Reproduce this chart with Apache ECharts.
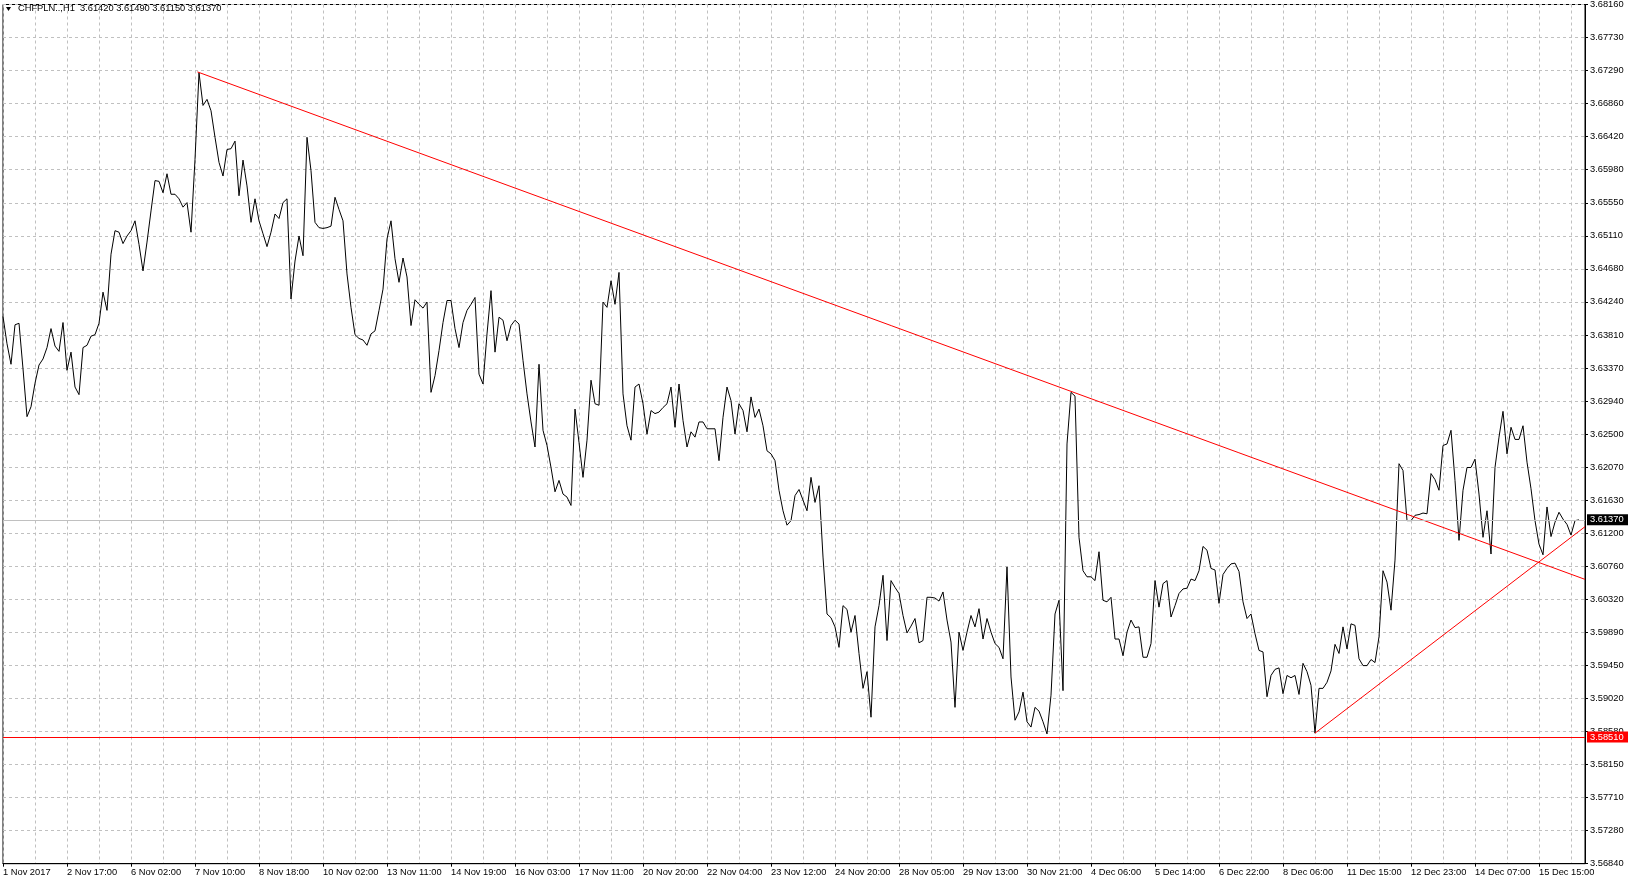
<!DOCTYPE html>
<html><head><meta charset="utf-8">
<script src="https://cdn.jsdelivr.net/npm/echarts@6/dist/echarts.min.js"></script>
<style>html,body{margin:0;padding:0;background:#fff}#c{width:1628px;height:886px}</style>
</head><body><div id="c"></div>
<script>
// Hourly closes, one reading every 2 bars
const closes = [
3.6405,3.6369,3.6342,3.6394,3.6396,3.6336,3.6273,3.6286,3.6317,3.6341,
3.6349,3.6364,3.6389,3.6366,3.6359,3.6397,3.6334,3.6358,3.6312,3.6302,
3.6364,3.6367,3.6379,3.6381,3.6396,3.6437,3.6413,3.6487,3.6518,3.6516,
3.6501,3.6511,3.6518,3.6531,3.6500,3.6465,3.6503,3.6544,3.6584,3.6583,
3.6568,3.6593,3.6566,3.6566,3.6560,3.6549,3.6555,3.6516,3.6612,3.6726,
3.6683,3.6691,3.6676,3.6641,3.6608,3.6590,3.6625,3.6626,3.6636,3.6564,
3.6611,3.6577,3.6529,3.6560,3.6531,3.6514,3.6497,3.6516,3.6540,3.6534,
3.6555,3.6560,3.6428,3.6478,3.6511,3.6485,3.6641,3.6597,3.6529,3.6522,
3.6521,3.6522,3.6524,3.6562,3.6546,3.6531,3.6461,3.6417,3.6381,3.6376,
3.6374,3.6367,3.6382,3.6386,3.6413,3.6441,3.6507,3.6531,3.6481,3.6450,
3.6482,3.6457,3.6393,3.6427,3.6421,3.6416,3.6424,3.6305,3.6327,3.6360,
3.6397,3.6426,3.6426,3.6389,3.6364,3.6397,3.6413,3.6421,3.6430,3.6329,
3.6316,3.6382,3.6439,3.6358,3.6404,3.6400,3.6373,3.6393,3.6400,3.6395,
3.6347,3.6303,3.6266,3.6233,3.6342,3.6255,3.6235,3.6206,3.6174,3.6189,
3.6171,3.6167,3.6156,3.6283,3.6239,3.6193,3.6242,3.6321,3.6290,3.6288,
3.6424,3.6417,3.6452,3.6421,3.6463,3.6303,3.6261,3.6242,3.6312,3.6316,
3.6290,3.6250,3.6281,3.6277,3.6279,3.6285,3.6290,3.6312,3.6259,3.6316,
3.6268,3.6233,3.6253,3.6246,3.6266,3.6266,3.6257,3.6257,3.6257,3.6215,
3.6272,3.6312,3.6294,3.6250,3.6290,3.6281,3.6253,3.6299,3.6272,3.6283,
3.6261,3.6228,3.6224,3.6215,3.6176,3.6149,3.6130,3.6136,3.6169,3.6177,
3.6163,3.6149,3.6193,3.6160,3.6182,3.6088,3.6013,3.6008,3.5996,3.5969,
3.6024,3.6019,3.5989,3.6011,3.5961,3.5915,3.5937,3.5877,3.5996,3.6024,
3.6064,3.5978,3.6057,3.6048,3.6040,3.6011,3.5988,3.5997,3.6007,3.5975,
3.5978,3.6035,3.6035,3.6034,3.6030,3.6042,3.6005,3.5976,3.5890,3.5989,
3.5965,3.5989,3.6011,3.5996,3.6020,3.5980,3.6007,3.5989,3.5974,3.5969,
3.5954,3.6075,3.5930,3.5873,3.5884,3.5910,3.5871,3.5864,3.5890,3.5885,
3.5871,3.5855,3.5906,3.6013,3.6031,3.5912,3.6237,3.6305,3.6300,3.6114,
3.6070,3.6062,3.6062,3.6057,3.6095,3.6031,3.6029,3.6035,3.5980,3.5980,
3.5958,3.5989,3.6005,3.5995,3.5996,3.5956,3.5956,3.5974,3.6057,3.6022,
3.6053,3.6057,3.6009,3.6024,3.6040,3.6046,3.6047,3.6059,3.6057,3.6070,
3.6102,3.6097,3.6073,3.6071,3.6027,3.6065,3.6073,3.6079,3.6080,3.6069,
3.6029,3.6007,3.6013,3.5987,3.5965,3.5963,3.5904,3.5932,3.5940,3.5942,
3.5908,3.5932,3.5929,3.5932,3.5907,3.5948,3.5937,3.5919,3.5856,3.5915,
3.5915,3.5923,3.5938,3.5973,3.5961,3.5996,3.5967,3.6000,3.5998,3.5954,
3.5945,3.5945,3.5953,3.5949,3.5983,3.6070,3.6055,3.6018,3.6084,3.6211,
3.6202,3.6136,3.6136,3.6143,3.6144,3.6146,3.6145,3.6198,3.6190,3.6176,
3.6235,3.6237,3.6255,3.6189,3.6110,3.6176,3.6206,3.6206,3.6217,3.6171,
3.6114,3.6149,3.6092,3.6206,3.6246,3.6280,3.6224,3.6259,3.6243,3.6243,
3.6261,3.6213,3.6178,3.6136,3.6105,3.6091,3.6154,3.6115,3.6134,3.6147,
3.6138,3.6131,3.6117,3.6136,3.6137
];
const xLabels = ["1 Nov 2017","2 Nov 17:00","6 Nov 02:00","7 Nov 10:00","8 Nov 18:00","10 Nov 02:00",
"13 Nov 11:00","14 Nov 19:00","16 Nov 03:00","17 Nov 11:00","20 Nov 20:00","22 Nov 04:00",
"23 Nov 12:00","24 Nov 20:00","28 Nov 05:00","29 Nov 13:00","30 Nov 21:00","4 Dec 06:00",
"5 Dec 14:00","6 Dec 22:00","8 Dec 06:00","11 Dec 15:00","12 Dec 23:00","14 Dec 07:00","15 Dec 15:00"];
const yLabels = ["3.68160","3.67730","3.67290","3.66860","3.66420","3.65980","3.65550","3.65110",
"3.64680","3.64240","3.63810","3.63370","3.62940","3.62500","3.62070","3.61630","3.61200","3.60760",
"3.60320","3.59890","3.59450","3.59020","3.58580","3.58150","3.57710","3.57280","3.56840"];
const headerText = "CHFPLN..,H1  3.61420 3.61490 3.61150 3.61370";
const supportLevel = 3.58510;
const bidPrice = 3.61370;
const trendDown = [[97.2, 3.67272], [791, 3.60586]];
const trendUp = [[656, 3.5856], [791, 3.6128]];

const barsPerPoint = 2, totalBars = 791, barsPerLabel = 32, barsPerGrid = 16;
const yMin = 3.5684, yTop = 3.6816, ySteps = 26;
const yStep = (yTop - yMin) / ySteps;
const yMax = yMin + yStep * ySteps;
const FONT = "'Liberation Sans', Arial, 'DejaVu Sans', sans-serif";
const FS = 9.3;
const gridGray = '#c0c0c0';

const chart = echarts.init(document.getElementById('c'), null, {renderer: 'canvas'});
chart.setOption({
  animation: false,
  backgroundColor: '#fff',
  textStyle: {fontFamily: FONT},
  title: {text: headerText, left: 18, top: 4, padding: 0,
    textStyle: {fontSize: FS, fontWeight: 'normal', color: '#000', fontFamily: FONT}},
  graphic: [{type: 'polygon', shape: {points: [[6, 7], [11, 7], [8.5, 11]]}, style: {fill: '#000'}}],
  grid: {left: 3, right: 43, top: 3.6, bottom: 22.3, show: true, borderColor: '#000', borderWidth: 1},
  xAxis: [{
    type: 'value', position: 'bottom', min: 0, max: totalBars, interval: barsPerLabel,
    axisLine: {show: true, onZero: false, lineStyle: {color: '#000', width: 1}},
    axisTick: {show: true, length: 3, lineStyle: {color: '#000'}},
    axisLabel: {show: true, align: 'left', margin: 4, fontSize: FS, color: '#000', fontFamily: FONT,
      showMaxLabel: false, showMinLabel: true,
      formatter: v => (v % barsPerLabel === 0 && xLabels[v / barsPerLabel]) || ''},
    splitLine: {show: false}
  }, {
    type: 'value', position: 'top', min: 0, max: totalBars, interval: barsPerGrid,
    axisLine: {show: false}, axisTick: {show: false}, axisLabel: {show: false},
    splitLine: {show: true, lineStyle: {color: gridGray, width: 1, type: [3, 3]}}
  }],
  yAxis: {
    type: 'value', position: 'right', min: yMin, max: yMax, interval: yStep,
    axisLine: {show: true, onZero: false, lineStyle: {color: '#000', width: 1}},
    axisTick: {show: true, length: 3, lineStyle: {color: '#000'}},
    axisLabel: {show: true, align: 'left', margin: 5, fontSize: FS, color: '#000', fontFamily: FONT,
      formatter: v => yLabels[Math.round((yTop - v) / yStep)] || ''},
    splitLine: {show: true, lineStyle: {color: gridGray, width: 1, type: [3, 3]}}
  },
  series: [{
    type: 'line', xAxisIndex: 0, data: closes.map((v, j) => [j * barsPerPoint, v]),
    showSymbol: false, symbol: 'none', lineStyle: {color: '#000', width: 1}, z: 3, silent: true,
    markLine: {
      silent: true, symbol: 'none', animation: false, precision: 5,
      data: [
        {yAxis: supportLevel, lineStyle: {color: '#ff0000', width: 1, type: 'solid'},
          label: {show: true, position: 'end', distance: 2, formatter: supportLevel.toFixed(5),
            backgroundColor: '#ff0000', color: '#fff', fontSize: FS, fontFamily: FONT, padding: [1, 6, 1, 3]}},
        {yAxis: bidPrice, lineStyle: {color: '#c0c0c0', width: 1, type: 'solid'},
          label: {show: true, position: 'end', distance: 2, formatter: bidPrice.toFixed(5),
            backgroundColor: '#000', color: '#fff', fontSize: FS, fontFamily: FONT, padding: [1, 6, 1, 3]}}
      ]
    }
  }, {
    type: 'line', xAxisIndex: 0, data: trendDown, showSymbol: false, symbol: 'none',
    lineStyle: {color: '#ff0000', width: 1}, z: 4, silent: true
  }, {
    type: 'line', xAxisIndex: 0, data: trendUp, showSymbol: false, symbol: 'none',
    lineStyle: {color: '#ff0000', width: 1}, z: 4, silent: true
  }]
});
</script>
</body></html>
